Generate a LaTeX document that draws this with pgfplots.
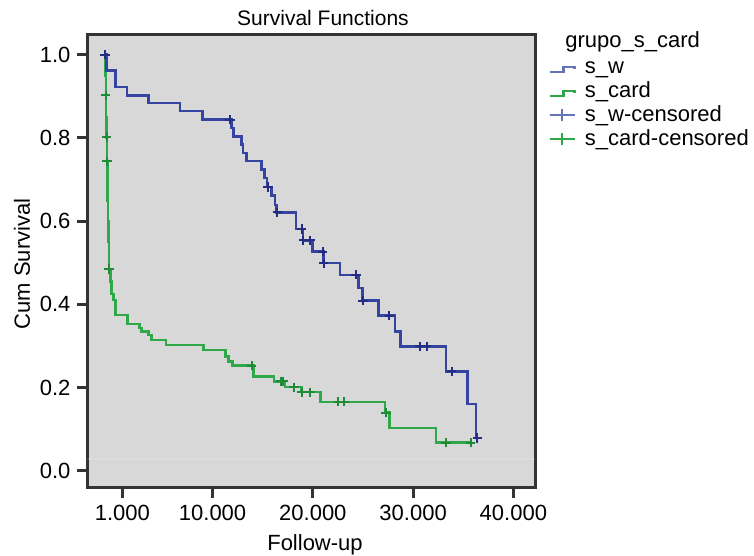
\documentclass[border=0pt]{standalone}
\usepackage{fontspec}
\setmainfont{Liberation Sans}
\usepackage{pgfplots}
\pgfplotsset{compat=1.18}

\definecolor{bggray}{RGB}{216,216,216}
\definecolor{framegray}{RGB}{51,51,51}
\definecolor{swblue}{RGB}{52,68,160}
\definecolor{swmark}{RGB}{35,45,130}
\definecolor{scgreen}{RGB}{46,168,72}
\definecolor{scmark}{RGB}{30,140,55}

\pgfplotsset{
  step legend/.style={
    legend image code/.code={
      \draw[##1] (0pt,0.8pt) -- (7pt,0.8pt) -- (7pt,3.3pt) -- (12.5pt,3.3pt) -- (12.5pt,2pt);
    }
  },
  cens legend/.style={
    legend image code/.code={
      \draw[##1] (0pt,3.2pt) -- (12.5pt,3.2pt);
      \draw[##1] (6.25pt,0.2pt) -- (6.25pt,6.2pt);
    }
  },
}

\pgfplotstableread{
x y
-728 1.0
-558 0.962
319 0.922
1466 0.902
3630 0.884
6752 0.864
9016 0.844
11908 0.824
12087 0.803
12885 0.784
13035 0.764
13404 0.744
14900 0.724
15179 0.704
15428 0.682
15897 0.661
16226 0.639
16376 0.621
18321 0.581
19019 0.554
19946 0.527
21043 0.499
22708 0.471
24534 0.439
24973 0.409
26529 0.373
28194 0.335
28762 0.299
33280 0.239
35404 0.161
36272 0.079
36402 0.079
}\sw

\pgfplotstableread{
x y
-728 1.0
11738 0.844
15528 0.682
16456 0.621
18889 0.581
19050 0.554
19747 0.554
21000 0.527
21090 0.499
24304 0.471
25000 0.409
27625 0.373
30687 0.299
31355 0.299
33848 0.239
36402 0.079
}\swcens

\pgfplotstableread{
x y
-728 1.0
-688 0.95
-648 0.90
-608 0.85
-568 0.80
-529 0.744
-499 0.70
-459 0.65
-419 0.60
-379 0.55
-329 0.485
-180 0.455
-60 0.425
100 0.411
339 0.375
1536 0.353
2693 0.343
2932 0.335
3590 0.327
3929 0.315
5356 0.303
9075 0.290
11290 0.275
11569 0.263
12007 0.253
14062 0.227
16126 0.215
17223 0.201
18889 0.189
20784 0.166
27197 0.140
27625 0.103
32282 0.068
35743 0.068
}\scard

\pgfplotstableread{
x y
-668 0.902
-568 0.802
-529 0.744
-329 0.485
13902 0.253
16795 0.215
17054 0.215
18121 0.201
18920 0.189
19717 0.189
22539 0.166
23107 0.166
27296 0.140
33280 0.068
35743 0.068
}\scardcens

\begin{document}
\begin{tikzpicture}[x=1pt,y=1pt]
\path[use as bounding box] (-43.75,-34) rectangle (333.25,244);
\begin{axis}[
    at={(0,0)}, anchor=south west,
    scale only axis,
    width=223.75pt, height=226.5pt,
    xmin=-2473, xmax=42156,
    ymin=-0.041, ymax=1.047,
    axis background/.style={fill=bggray},
    axis line style={draw=framegray, line width=1.5pt},
    tick align=outside,
    major tick length=5pt,
    tick style={draw=framegray, line width=1.5pt},
    scaled x ticks=false,
    xtick={1000,10000,20000,30000,40000},
    xticklabels={1.000,10.000,20.000,30.000,40.000},
    ytick={0,0.2,0.4,0.6,0.8,1.0},
    yticklabels={0.0,0.2,0.4,0.6,0.8,1.0},
    xtick pos=bottom, ytick pos=left,
    font=\fontsize{11}{13}\selectfont,
    legend style={at={(axis description cs:1.0291,0.9547)}, anchor=north west,
        draw=none, fill=none, inner sep=0pt, row sep=0pt, column sep=4.5pt,
        nodes={inner sep=0pt, anchor=base west, text height=8.75pt, text depth=3.25pt},
        font=\fontsize{11}{13}\selectfont},
    legend cell align=left,
]
% faint reference line near the bottom
\addplot[draw=white, opacity=0.15, line width=1pt, forget plot] coordinates {(-2473,0.029) (42156,0.029)};

\addplot[const plot, scgreen, line width=1.25pt, forget plot] table {\scard};
\addplot[const plot, swblue, line width=1.25pt, forget plot] table {\sw};
\addplot[only marks, mark=+, mark size=2.3pt, scmark, line width=1pt, forget plot] table {\scardcens};
\addplot[only marks, mark=+, mark size=2.3pt, swmark, line width=1pt, forget plot] table {\swcens};

\addlegendimage{step legend, swblue!75, line width=1.25pt}
\addlegendentry{s\_w}
\addlegendimage{step legend, scgreen, line width=1.25pt}
\addlegendentry{s\_card}
\addlegendimage{cens legend, swblue!75, line width=1.25pt}
\addlegendentry{s\_w-censored}
\addlegendimage{cens legend, scgreen, line width=1.25pt}
\addlegendentry{s\_card-censored}
\end{axis}

\node[anchor=base, font=\fontsize{10.5}{13}\selectfont] at (117.75,231) {Survival Functions};
\node[anchor=base, font=\fontsize{11}{13}\selectfont] at (113.75,-31) {Follow-up};
\node[anchor=base, rotate=90, font=\fontsize{11}{13}\selectfont] at (-28.75,112) {Cum Survival};
\node[anchor=base west, inner sep=0pt, font=\fontsize{11}{13}\selectfont] at (238.75,220) {grupo\_s\_card};
\end{tikzpicture}
\end{document}
